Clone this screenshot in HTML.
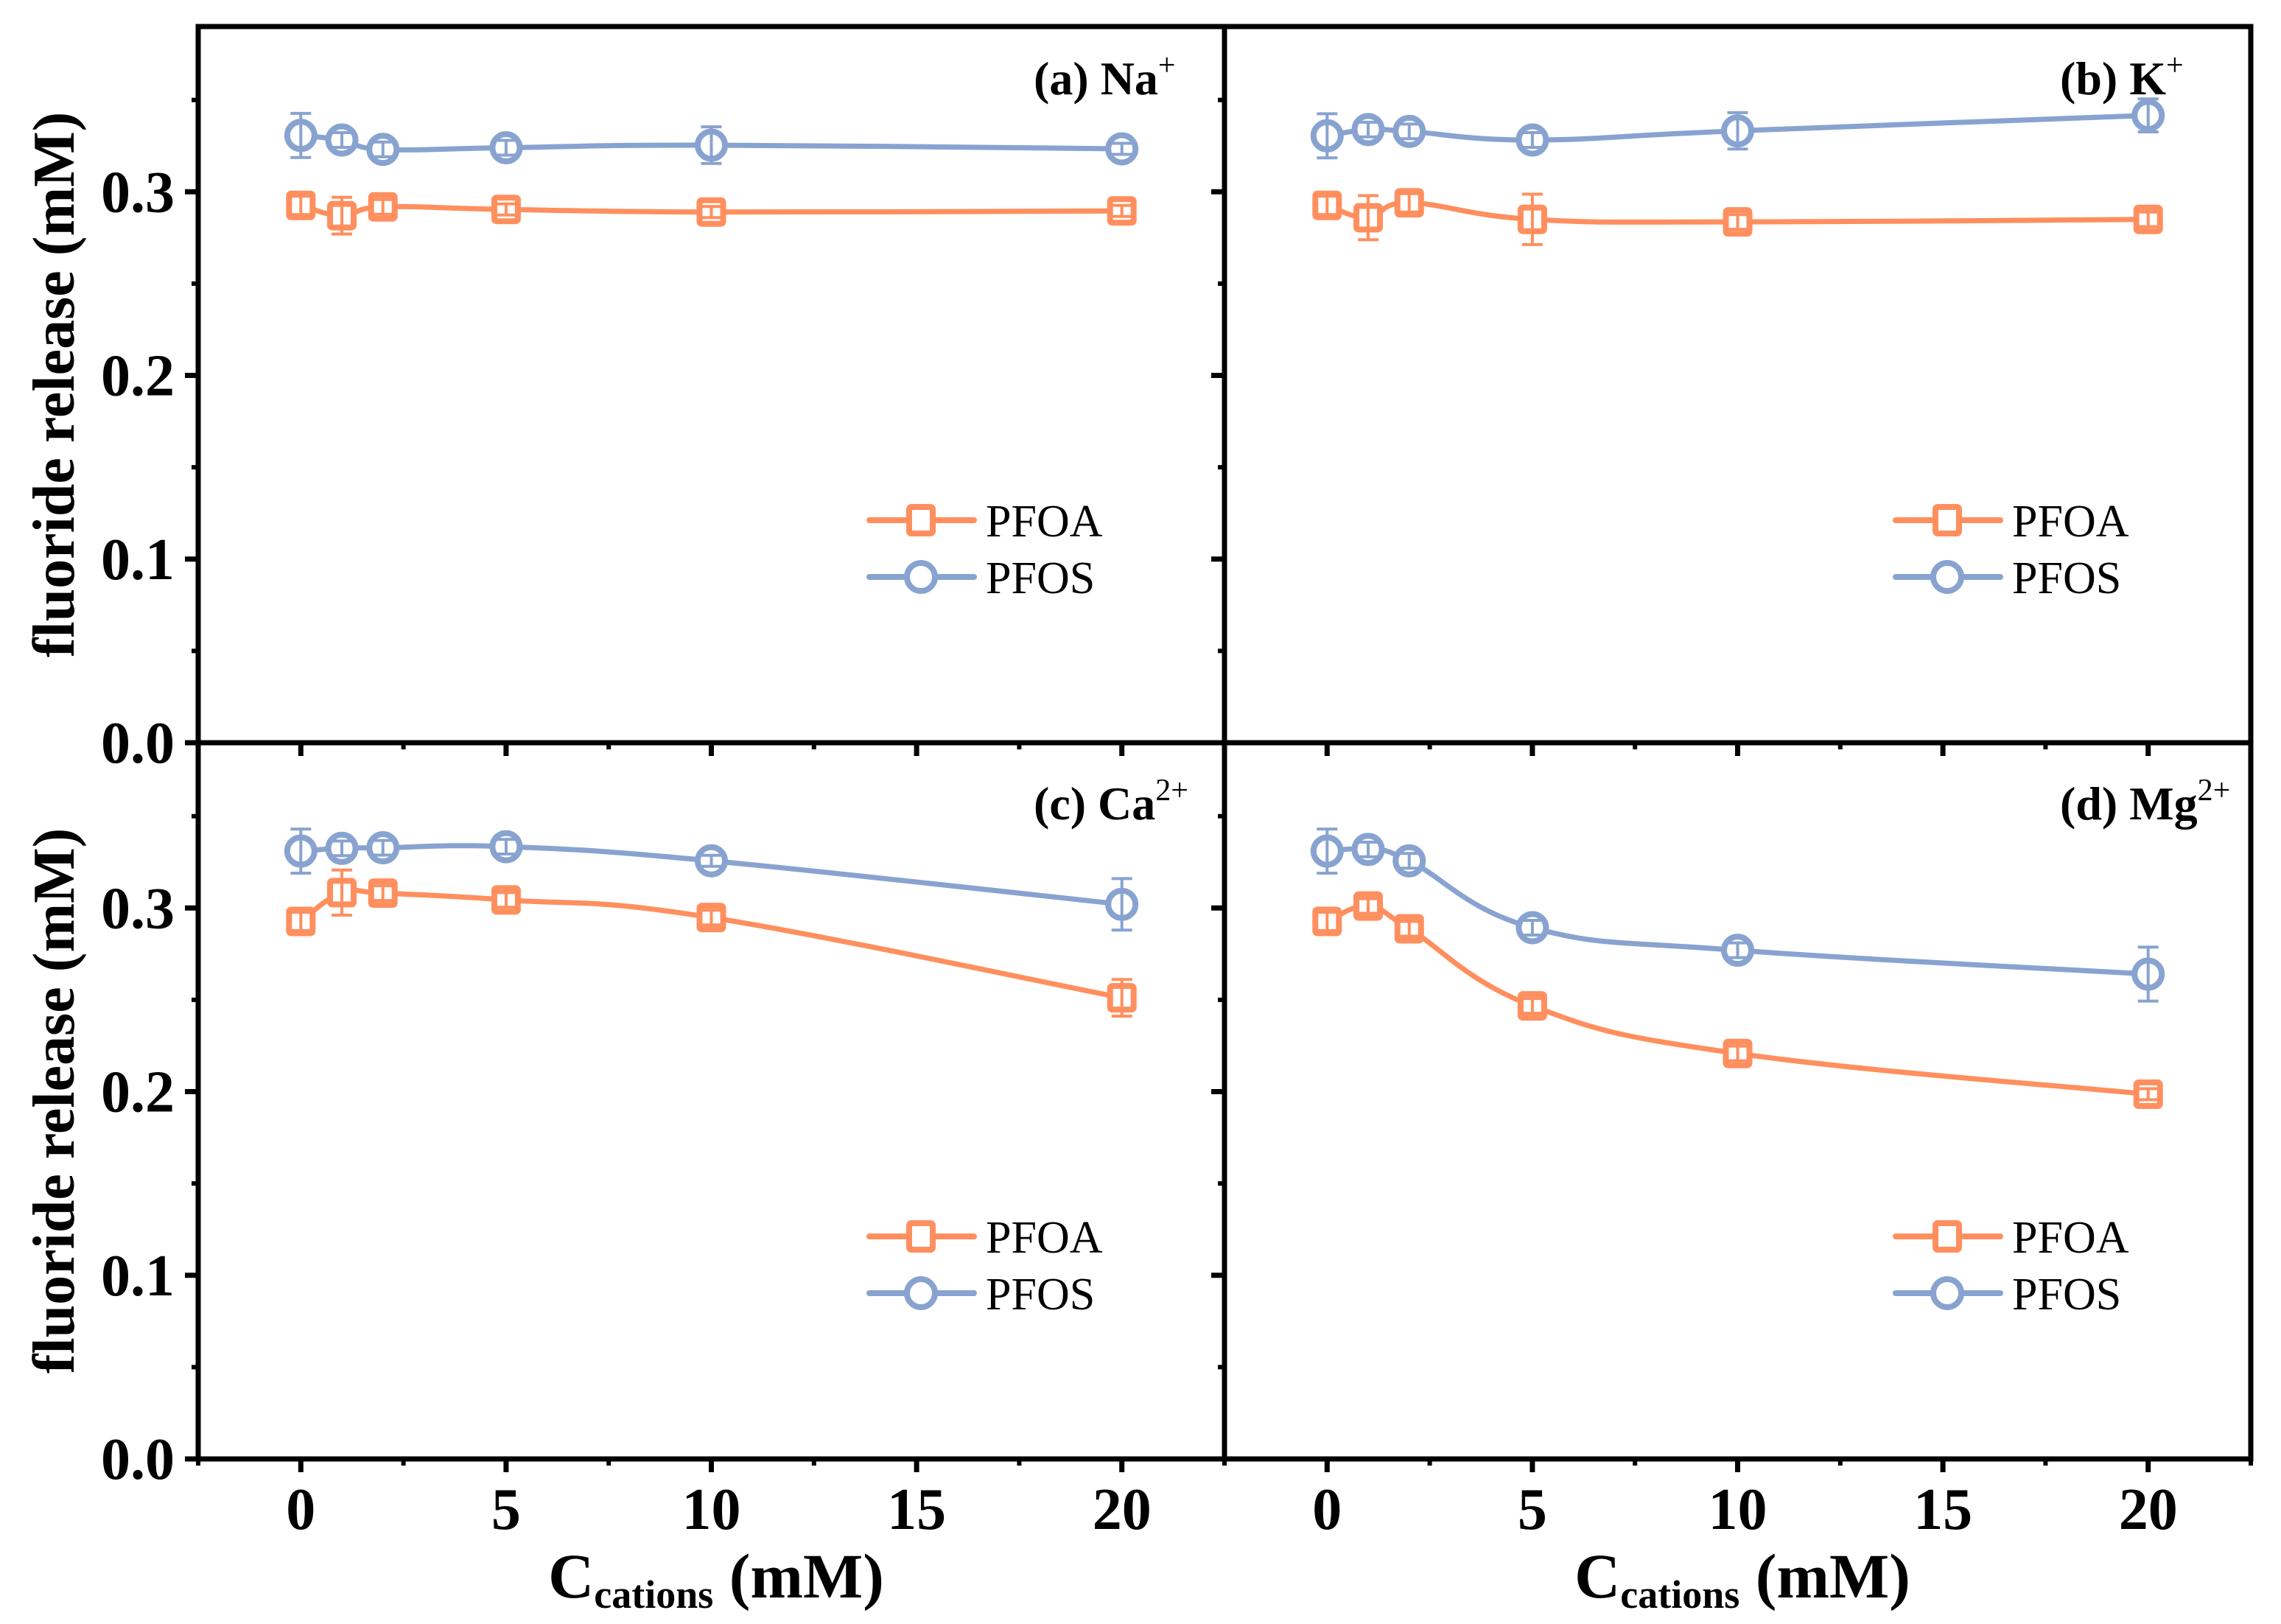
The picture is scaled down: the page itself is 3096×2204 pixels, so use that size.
<!DOCTYPE html>
<html><head><meta charset="utf-8"><style>
html,body{margin:0;padding:0;background:#fff;}
svg{display:block;font-family:"Liberation Serif","Times New Roman",serif;}
</style></head><body>
<svg id="chart" width="3096" height="2204" viewBox="0 0 3096 2204" xmlns="http://www.w3.org/2000/svg"></svg>
<script>
const xValues = [0, 1, 2, 5, 10, 20];
const panelLabels = ["(a) Na", "(b) K", "(c) Ca", "(d) Mg"];
const panelSups = ["+", "+", "2+", "2+"];
const pfoaA = [0.2926, 0.2870, 0.2918, 0.2904, 0.2890, 0.2896];
const pfoaAErr = [0.005, 0.010, 0.004, 0.003, 0.003, 0.003];
const pfosA = [0.3307, 0.3282, 0.3231, 0.3240, 0.3254, 0.3234];
const pfosAErr = [0.012, 0.004, 0.004, 0.004, 0.010, 0.003];
const pfoaB = [0.2926, 0.2859, 0.2940, 0.2850, 0.2836, 0.2850];
const pfoaBErr = [0.005, 0.012, 0.005, 0.0137, 0.004, 0.004];
const pfosB = [0.3305, 0.3339, 0.3329, 0.3282, 0.3332, 0.3416];
const pfosBErr = [0.012, 0.004, 0.004, 0.004, 0.0099, 0.009];
const pfoaC = [0.2927, 0.3084, 0.3081, 0.3044, 0.2948, 0.2511];
const pfoaCErr = [0.005, 0.0123, 0.004, 0.004, 0.004, 0.010];
const pfosC = [0.3310, 0.3325, 0.3328, 0.3334, 0.3257, 0.3020];
const pfosCErr = [0.012, 0.004, 0.004, 0.004, 0.003, 0.014];
const pfoaD = [0.2927, 0.3011, 0.2887, 0.2467, 0.2208, 0.1986];
const pfoaDErr = [0.005, 0.004, 0.004, 0.004, 0.004, 0.003];
const pfosD = [0.3310, 0.3319, 0.3257, 0.2893, 0.2770, 0.2640];
const pfosDErr = [0.012, 0.004, 0.004, 0.004, 0.004, 0.0147];
const yTicks = [0.0, 0.1, 0.2, 0.3];
const yTickLabels = ["0.0", "0.1", "0.2", "0.3"];
const yMinorTicks = [0.05, 0.15, 0.25, 0.35];
const xTicks = [0, 5, 10, 15, 20];
const xTickLabels = ["0", "5", "10", "15", "20"];
const xMinorTicks = [-2.5, 2.5, 7.5, 12.5, 17.5, 22.5];

const NS = "http://www.w3.org/2000/svg";
const svg = document.getElementById("chart");
const ORANGE = "#FF8F5E", BLUE = "#88A3D0";
const PW = 1393, PH = 972;
const panels = [
  {x0: 269, y0: 36, pfoa: pfoaA, pfoaE: pfoaAErr, pfos: pfosA, pfosE: pfosAErr, left: true, bottom: false},
  {x0: 1662, y0: 36, pfoa: pfoaB, pfoaE: pfoaBErr, pfos: pfosB, pfosE: pfosBErr, left: false, bottom: false},
  {x0: 269, y0: 1008, pfoa: pfoaC, pfoaE: pfoaCErr, pfos: pfosC, pfosE: pfosCErr, left: true, bottom: true},
  {x0: 1662, y0: 1008, pfoa: pfoaD, pfoaE: pfoaDErr, pfos: pfosD, pfosE: pfosDErr, left: false, bottom: true}
];
function el(tag, attrs, parent) {
  const e = document.createElementNS(NS, tag);
  for (const k in attrs) e.setAttribute(k, attrs[k]);
  (parent || svg).appendChild(e);
  return e;
}
function smoothPath(pts) {
  let d = "M" + pts[0][0] + "," + pts[0][1];
  for (let i = 0; i < pts.length - 1; i++) {
    const p0 = pts[i - 1] || pts[i], p1 = pts[i], p2 = pts[i + 1], p3 = pts[i + 2] || p2;
    const t = 0.2;
    const c1 = [p1[0] + (p2[0] - p0[0]) * t, p1[1] + (p2[1] - p0[1]) * t];
    const c2 = [p2[0] - (p3[0] - p1[0]) * t, p2[1] - (p3[1] - p1[1]) * t];
    d += " C" + c1[0] + "," + c1[1] + " " + c2[0] + "," + c2[1] + " " + p2[0] + "," + p2[1];
  }
  return d;
}
panels.forEach((p, pi) => {
  const g = el("g", {});
  
  
  const xs = v => p.x0 + (v + 2.5) / 25 * PW;
  const ys = v => p.y0 + PH - v / 0.39 * PH;
  const bottomY = p.y0 + PH;
  const tx = p.x0;
  yTicks.forEach((t, i) => {
    const tk = el("line", {x1: tx - 18, x2: tx, y1: ys(t), y2: ys(t), stroke: "#000", "stroke-width": 7}, g);
    
    
    if (p.left) {
      const lb = el("text", {x: 237, y: ys(t) + 27, "text-anchor": "end", "font-size": 80, "font-weight": "bold"}, g);
      lb.textContent = yTickLabels[i];
      
      
    }
  });
  yMinorTicks.forEach(t => {
    const tk = el("line", {x1: tx - 9, x2: tx, y1: ys(t), y2: ys(t), stroke: "#000", "stroke-width": 6}, g);
    
    
  });
  xTicks.forEach((t, i) => {
    const tk = el("line", {x1: xs(t), x2: xs(t), y1: bottomY, y2: bottomY + 18, stroke: "#000", "stroke-width": 7}, g);
    
    
    if (p.bottom) {
      const lb = el("text", {x: xs(t), y: 2075, "text-anchor": "middle", "font-size": 80, "font-weight": "bold"}, g);
      lb.textContent = xTickLabels[i];
      
      
    }
  });
  xMinorTicks.forEach(t => {
    const tk = el("line", {x1: xs(t), x2: xs(t), y1: bottomY, y2: bottomY + 9, stroke: "#000", "stroke-width": 6}, g);
    
    
  });
  const fr = el("rect", {x: p.x0, y: p.y0, width: PW, height: PH, fill: "none", stroke: "#000", "stroke-width": 7}, g);
  
  
  [[p.pfoa, p.pfoaE, ORANGE, "pfoa"], [p.pfos, p.pfosE, BLUE, "pfos"]].forEach(([vals, errs, col, nm]) => {
    const pts = vals.map((v, i) => [xs(xValues[i]), ys(v)]);
    const ln = el("path", {d: smoothPath(pts), fill: "none", stroke: col, "stroke-width": 7}, g);
    
    
    vals.forEach((v, i) => {
      const cx = xs(xValues[i]), cy = ys(v);
      let m;
      if (nm === "pfoa") m = el("rect", {x: cx - 16, y: cy - 16, width: 32, height: 32, rx: 3, fill: "#fff", stroke: col, "stroke-width": 8}, g);
      else m = el("circle", {cx: cx, cy: cy, r: 18.5, fill: "#fff", stroke: col, "stroke-width": 8}, g);
      
      
      const e = errs[i];
      const eb = el("path", {d: "M" + cx + "," + ys(v - e) + " V" + ys(v + e) + " M" + (cx - 14) + "," + ys(v + e) + " h28 M" + (cx - 14) + "," + ys(v - e) + " h28", stroke: col, "stroke-width": 4, fill: "none"}, g);
      
      
    });
  });
  const lx = p.x0 - 269;
  const ly = p.y0 - 36;
  [["PFOA", ORANGE, 706, "pfoa"], ["PFOS", BLUE, 783, "pfos"]].forEach(([t, col, yy, nm]) => {
    const lg = el("g", {}, g);
    
    
    el("line", {x1: lx + 1180, x2: lx + 1322, y1: ly + yy, y2: ly + yy, stroke: col, "stroke-width": 8, "stroke-linecap": "round"}, lg);
    if (nm === "pfoa") el("rect", {x: lx + 1234, y: ly + yy - 18, width: 32, height: 36, rx: 3, fill: "#fff", stroke: col, "stroke-width": 8}, lg);
    else el("circle", {cx: lx + 1250, cy: ly + yy, r: 19, fill: "#fff", stroke: col, "stroke-width": 8}, lg);
    const tt = el("text", {x: lx + 1338, y: ly + yy + 22, "font-size": 62}, lg);
    tt.textContent = t;
  });
  const pl = el("text", {x: p.x0 + 1134, y: p.y0 + (p.bottom ? 104 : 92), "font-size": 64, "font-weight": "bold"}, g);
  
  
  pl.textContent = panelLabels[pi];
  const sp = el("tspan", {dy: -26, "font-size": 42, "font-weight": "normal"}, pl);
  sp.textContent = panelSups[pi];
  if (p.bottom) {
    const xt = el("text", {x: p.x0 + 703, y: 2168, "text-anchor": "middle", "font-size": 86, "font-weight": "bold"}, g);
    
    
    xt.appendChild(document.createTextNode("C"));
    const sb = el("tspan", {dy: 14, "font-size": 54}, xt);
    sb.textContent = "cations";
    const rest = el("tspan", {dy: -14}, xt);
    rest.textContent = " (mM)";
  }
  if (p.left) {
    const cy = p.y0 + PH / 2;
    const yt = el("text", {x: 0, y: 0, transform: "translate(100," + cy + ") rotate(-90)", "text-anchor": "middle", "font-size": 80, "font-weight": "bold"}, g);
    
    
    yt.textContent = "fluoride release (mM)";
  }
});
</script>
</body></html>
